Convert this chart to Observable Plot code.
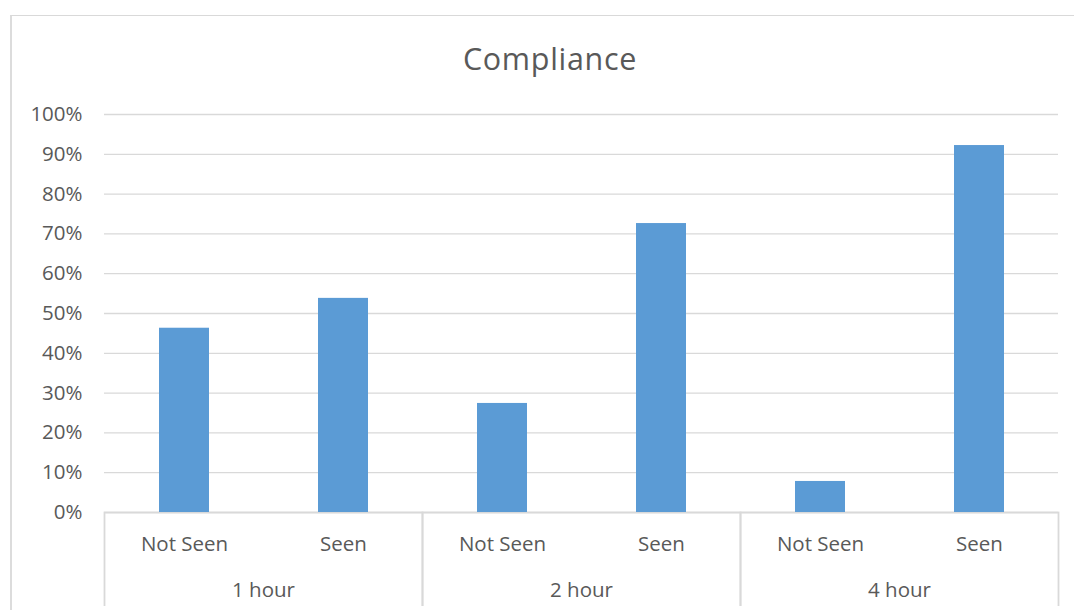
<!DOCTYPE html>
<html><head><meta charset="utf-8">
<script src="https://cdn.jsdelivr.net/npm/d3@7"></script>
<script src="https://cdn.jsdelivr.net/npm/@observablehq/plot@0.6"></script>
<style>
html,body{margin:0;padding:0;background:#fff;overflow:hidden;}
#wrap{position:relative;width:1074px;height:610px;font-family:"Open Sans",sans-serif;overflow:hidden;}
#border{position:absolute;left:10px;top:15px;width:1200px;height:800px;border-left:2px solid #dcdcdc;border-top:1px solid #d9d9d9;pointer-events:none;}
#head{position:relative;height:95px;}
#title{position:absolute;left:0;width:1100px;top:42.5px;text-align:center;font-size:30.5px;line-height:30.5px;color:#595959;letter-spacing:0.7px;}
#chart svg{display:block;}
</style></head><body>
<div id="wrap"><div id="head"><div id="title">Compliance</div></div><div id="chart"></div><div id="border"></div></div>
<script>
const groups = ["1 hour", "2 hour", "4 hour"];
const statuses = ["Not Seen", "Seen"];
const notSeenValues = [46.3, 27.4, 7.8];
const seenValues = [53.8, 72.6, 92.2];
const yTicks = [0, 10, 20, 30, 40, 50, 60, 70, 80, 90, 100];
const yTickLabels = ["0%", "10%", "20%", "30%", "40%", "50%", "60%", "70%", "80%", "90%", "100%"];

const data = [];
groups.forEach((g, i) => {
  data.push({group: g, status: statuses[0], value: notSeenValues[i]});
  data.push({group: g, status: statuses[1], value: seenValues[i]});
});

const W = 1074, H = 511, mT = 19, mB = 94, mL = 103, mR = 16;
const grid = "#d9d9d9", text = "#595959", fs = 20.5;

const plot = Plot.plot({
  width: W, height: H,
  marginTop: mT, marginBottom: mB, marginLeft: mL, marginRight: mR,
  style: {fontFamily: "'Open Sans', sans-serif", color: text, background: "#fff", overflow: "hidden"},
  fx: {domain: groups, padding: 0, label: null},
  x: {domain: statuses, paddingInner: 0.686, paddingOuter: 0.343, label: null},
  y: {domain: [0, 100], label: null},
  marks: [
    Plot.ruleY(yTicks, {stroke: grid, strokeWidth: 1.3}),
    Plot.frame({stroke: grid, strokeWidth: 1.8, insetTop: H - mT - mB, insetBottom: -(mB + 20)}),
    Plot.barY(data, {fx: "group", x: "status", y: "value", fill: "#5B9BD5"}),
    Plot.axisY({ticks: yTicks, tickFormat: (d) => yTickLabels[yTicks.indexOf(d)], tickSize: 0, tickPadding: 22, fontSize: fs, label: null}),
    Plot.axisX({tickSize: 0, tickPadding: 24.4, fontSize: fs, label: null}),
    Plot.axisFx({anchor: "bottom", tickSize: 0, tickPadding: 70, fontSize: fs, label: null})
  ]
});
document.getElementById("chart").appendChild(plot);
</script>
</body></html>
